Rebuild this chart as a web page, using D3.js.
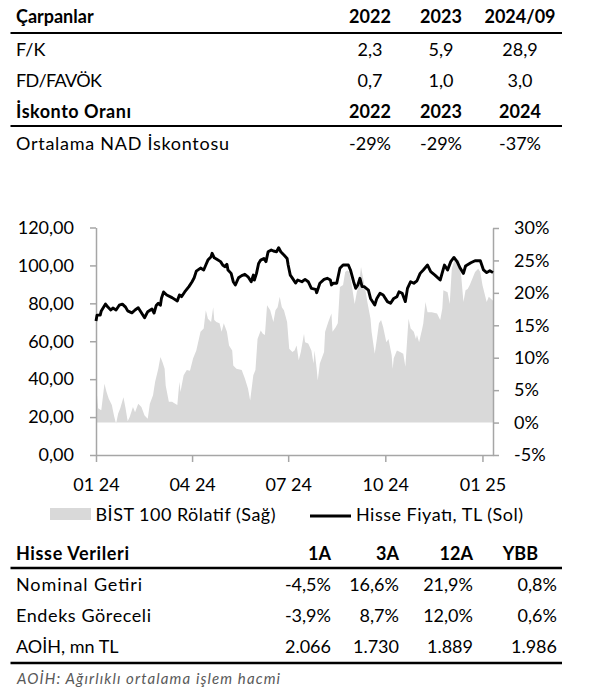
<!DOCTYPE html>
<html>
<head>
<meta charset="utf-8">
<script src="https://cdn.jsdelivr.net/npm/d3@7"></script>
<style>
  html, body { margin: 0; padding: 0; background: #fff; }
  svg { display: block; font-family: Lato, "Open Sans", sans-serif; }
</style>
</head>
<body>
<svg id="chart" width="594" height="693"></svg>
<script>
// ---------- DATA ----------
// Top table: multiples
const multiplesTitle = "Çarpanlar";
const multiplesYears = ["2022", "2023", "2024/09"];
const multiplesLabels = ["F/K", "FD/FAVÖK"];
const multiplesValues = [["2,3", "5,9", "28,9"], ["0,7", "1,0", "3,0"]];
const discountTitle = "İskonto Oranı";
const discountYears = ["2022", "2023", "2024"];
const discountLabels = ["Ortalama NAD İskontosu"];
const discountValues = [["-29%", "-29%", "-37%"]];

// Chart: share price (TL, left axis)
const priceDates = ["2024-01-01","2024-01-02","2024-01-05","2024-01-06","2024-01-10","2024-01-12","2024-01-15","2024-01-17","2024-01-20","2024-01-23",
  "2024-01-26","2024-01-29","2024-01-31","2024-02-04","2024-02-07","2024-02-10","2024-02-13","2024-02-16","2024-02-19","2024-02-23",
  "2024-02-25","2024-02-27","2024-02-29","2024-03-02","2024-03-03","2024-03-05","2024-03-08","2024-03-13","2024-03-18","2024-03-20",
  "2024-03-22","2024-03-25","2024-03-29","2024-04-01","2024-04-03","2024-04-05","2024-04-09","2024-04-12","2024-04-14","2024-04-16",
  "2024-04-19","2024-04-20","2024-04-22","2024-04-24","2024-04-28","2024-04-30","2024-05-02","2024-05-04","2024-05-05","2024-05-08",
  "2024-05-10","2024-05-12","2024-05-15","2024-05-18","2024-05-21","2024-05-24","2024-05-27","2024-05-29","2024-05-30","2024-06-01",
  "2024-06-03","2024-06-05","2024-06-08","2024-06-10","2024-06-12","2024-06-15","2024-06-17","2024-06-20","2024-06-22","2024-06-24",
  "2024-06-27","2024-06-30","2024-07-01","2024-07-03","2024-07-05","2024-07-08","2024-07-10","2024-07-14","2024-07-17","2024-07-20",
  "2024-07-23","2024-07-27","2024-07-28","2024-07-31","2024-08-04","2024-08-07","2024-08-10","2024-08-11","2024-08-13","2024-08-16",
  "2024-08-19","2024-08-22","2024-08-27","2024-08-29","2024-09-01","2024-09-03","2024-09-05","2024-09-07","2024-09-09","2024-09-11",
  "2024-09-13","2024-09-15","2024-09-17","2024-09-21","2024-09-23","2024-09-26","2024-09-29","2024-10-03","2024-10-06","2024-10-09",
  "2024-10-12","2024-10-14","2024-10-17","2024-10-20","2024-10-22","2024-10-25","2024-10-28","2024-10-31","2024-11-03","2024-11-06",
  "2024-11-10","2024-11-13","2024-11-17","2024-11-22","2024-11-26","2024-11-29","2024-12-02","2024-12-05","2024-12-08","2024-12-11",
  "2024-12-14","2024-12-16","2024-12-21","2024-12-25","2024-12-30","2025-01-02","2025-01-05","2025-01-08","2025-01-11"];
const priceValues = [70.7,73.8,73.8,76,79.6,78.2,76.5,77.5,76.5,79,
  79.6,78,76,75,76.5,77.7,75,72.4,75.6,77,
  74.9,78.8,80,79,82.7,86,84.4,83,81.2,84.4,
  83.5,86,88.8,91.4,93.5,97,98.6,97.6,100.2,102.8,
  104.6,106.4,104,103.4,102,100.2,99.3,100.6,97.6,95.8,
  91.4,89.7,93.5,94.6,95.3,94,91.4,94.9,92.3,95.8,
  101,102.8,103.7,102,107.2,108.1,107.6,107.2,109.3,107.2,
  105.5,103.7,100.2,94.9,93.3,90.7,92.3,91.4,92.6,91.4,
  87.9,87.4,85.6,90.6,92.6,93.2,92.3,89.7,90.6,90.6,
  98.5,100.2,100.2,97.6,91.4,87.9,89.7,93.2,88.8,88.8,
  87.9,87,82.6,79.1,82.6,85.3,84.4,80.9,80,82.6,
  83.5,86.1,85.3,80.9,87.9,91.4,90.6,91.9,95.8,97.6,
  100.2,96.7,94.9,92.3,100.2,97.6,102,104.2,102,98.5,
  95.8,99.7,101.4,102.5,102.5,97.6,96.2,97.2,96.2];

// Chart: relative to BIST 100 (%, right axis)
const relDates = ["2024-01-01","2024-01-02","2024-01-03","2024-01-06","2024-01-09","2024-01-11","2024-01-13","2024-01-16","2024-01-18","2024-01-20",
  "2024-01-22","2024-01-24","2024-01-27","2024-01-29","2024-01-31","2024-02-02","2024-02-05","2024-02-07","2024-02-10","2024-02-13",
  "2024-02-16","2024-02-19","2024-02-21","2024-02-24","2024-02-26","2024-02-29","2024-03-02","2024-03-04","2024-03-06","2024-03-07",
  "2024-03-10","2024-03-13","2024-03-16","2024-03-18","2024-03-20","2024-03-21","2024-03-24","2024-03-27","2024-03-30","2024-04-02",
  "2024-04-05","2024-04-09","2024-04-12","2024-04-14","2024-04-16","2024-04-19","2024-04-21","2024-04-22","2024-04-24","2024-04-27",
  "2024-04-29","2024-05-01","2024-05-04","2024-05-06","2024-05-09","2024-05-10","2024-05-13","2024-05-18","2024-05-21","2024-05-24",
  "2024-05-26","2024-05-29","2024-05-31","2024-06-02","2024-06-05","2024-06-07","2024-06-09","2024-06-11","2024-06-14","2024-06-17",
  "2024-06-19","2024-06-21","2024-06-23","2024-06-25","2024-06-27","2024-06-30","2024-07-02","2024-07-05","2024-07-07","2024-07-09",
  "2024-07-11","2024-07-13","2024-07-16","2024-07-17","2024-07-20","2024-07-23","2024-07-25","2024-07-26","2024-07-28","2024-07-29",
  "2024-07-31","2024-08-04","2024-08-05","2024-08-08","2024-08-11","2024-08-12","2024-08-15","2024-08-17","2024-08-19","2024-08-22",
  "2024-08-24","2024-08-26","2024-08-28","2024-08-30","2024-09-02","2024-09-04","2024-09-06","2024-09-08","2024-09-10","2024-09-12",
  "2024-09-14","2024-09-17","2024-09-18","2024-09-21","2024-09-23","2024-09-25","2024-09-27","2024-09-29","2024-10-02","2024-10-04",
  "2024-10-07","2024-10-08","2024-10-09","2024-10-12","2024-10-15","2024-10-18","2024-10-20","2024-10-23","2024-10-25","2024-10-28",
  "2024-10-30","2024-10-31","2024-11-02","2024-11-05","2024-11-06","2024-11-08","2024-11-10","2024-11-14","2024-11-19","2024-11-22",
  "2024-11-24","2024-11-25","2024-11-29","2024-12-01","2024-12-03","2024-12-06","2024-12-10","2024-12-12","2024-12-14","2024-12-16",
  "2024-12-18","2024-12-20","2024-12-23","2024-12-25","2024-12-28","2024-12-30","2025-01-01","2025-01-03","2025-01-05","2025-01-07",
  "2025-01-09","2025-01-11"];
const relValues = [-0.5,4.2,2.2,1.9,6.0,4.7,3.7,2.7,1.1,-0.2,
  1.4,2.2,3.9,2.2,0.2,0.9,2.4,1.6,2.9,2.4,
  1.1,0.6,2.9,4.2,6.3,8.3,10.1,9.3,8.3,5.7,
  3.2,3.2,2.9,2.7,6.3,4.7,7.3,8.1,8.0,9.9,
  11.1,14,14.5,17.3,16,15.5,17.8,15.8,15.5,15.3,
  14,15.3,14,11.9,11.1,8.8,8.3,8.1,6.8,5.2,
  3.4,7.3,8.1,12.9,14.2,13.7,13.5,18.1,17.3,15.5,
  17.3,17.8,19.4,17.8,17.3,15.5,11.4,10.9,11.1,11.9,
  9.6,10.9,13.7,12.4,12.2,11.1,9.1,11.1,8.3,6.5,
  9.1,10.9,14,15.5,16.8,14,14.7,15.3,20.9,21.2,
  23.2,23.5,23.2,21.4,18.3,20.1,21.2,24,22.2,20.6,
  18.6,16,14,10.6,12.9,15.3,15.8,14.7,12.4,12.9,
  10.4,8.3,9.9,11.1,10.9,10.6,8.6,16,14.5,14,
  12.9,13.5,12.4,14.5,15.3,18.6,17,17,16.8,15.8,
  17.6,20.4,20.1,18.3,23.7,25.3,25,22.4,18.6,20.4,
  20.6,21.2,22.4,23.2,23.7,23.2,21.2,19.9,18.6,19.4,
  19.1,18.8];

const xTickDates = ["2024-01-01", "2024-04-01", "2024-07-01", "2024-10-01", "2025-01-01"];
const leftTicks = [0, 20, 40, 60, 80, 100, 120];
const rightTicks = [-5, 0, 5, 10, 15, 20, 25, 30];
const legendLabels = ["BİST 100 Rölatif (Sağ)", "Hisse Fiyatı, TL (Sol)"];

// Bottom table: share data
const shareTitle = "Hisse Verileri";
const sharePeriods = ["1A", "3A", "12A", "YBB"];
const shareLabels = ["Nominal Getiri", "Endeks Göreceli", "AOİH, mn TL"];
const shareValues = [["-4,5%", "16,6%", "21,9%", "0,8%"], ["-3,9%", "8,7%", "12,0%", "0,6%"], ["2.066", "1.730", "1.889", "1.986"]];
const footnote = "AOİH: Ağırlıklı ortalama işlem hacmi";

// ---------- DRAW ----------
const svg = d3.select("#chart");
const FS = 18;

// label widths measured on the reference (Excel-style loose spacing)
const labelWidth = {
  "Çarpanlar": 79, "F/K": 28, "FD/FAVÖK": 86, "İskonto Oranı": 115,
  "Ortalama NAD İskontosu": 213, "Hisse Verileri": 113, "Nominal Getiri": 126,
  "Endeks Göreceli": 135, "AOİH, mn TL": 102
};
function label(x, y, t, bold) {
  const el = svg.append("text").attr("x", x).attr("y", y).attr("dy", "0.35em")
    .attr("font-size", FS).attr("font-weight", bold ? "bold" : null).text(t);
  const w = labelWidth[t];
  if (w) {
    const nat = el.node().getComputedTextLength();
    if (Math.abs(nat - w) > 2) el.attr("textLength", w).attr("lengthAdjust", "spacing");
  }
  return el;
}

// --- top table ---
const topCols = [370, 441, 520];
function headerRow(y, title, cols) {
  label(16, y, title, true);
  svg.selectAll(null).data(cols).enter().append("text")
    .attr("x", (d, i) => topCols[i]).attr("y", y).attr("dy", "0.35em")
    .attr("text-anchor", "middle").attr("font-weight", "bold").attr("font-size", FS).text(d => d);
}
function bodyRow(y, lab, vals) {
  label(16, y, lab, false);
  svg.selectAll(null).data(vals).enter().append("text")
    .attr("x", (d, i) => topCols[i]).attr("y", y).attr("dy", "0.35em")
    .attr("text-anchor", "middle").attr("font-size", FS).text(d => d);
}
function rule(y, w) {
  svg.append("line").attr("x1", 10.5).attr("x2", 562).attr("y1", y).attr("y2", y)
    .attr("stroke", "#000").attr("stroke-width", w);
}
headerRow(17, multiplesTitle, multiplesYears);
rule(33, 2);
multiplesLabels.forEach((l, i) => bodyRow(50 + i * 31, l, multiplesValues[i]));
headerRow(112, discountTitle, discountYears);
rule(126, 2);
discountLabels.forEach((l, i) => bodyRow(144, l, discountValues[i]));

// --- chart ---
const parse = d3.timeParse("%Y-%m-%d");
const x = d3.scaleTime().domain([parse("2024-01-01"), parse("2025-01-11")]).range([96, 493]);
const yL = d3.scaleLinear().domain([0, 120]).range([455, 227.5]);
const yR = d3.scaleLinear().domain([-5, 30]).range([455, 228]);

const relData = relDates.map((d, i) => ({ d: parse(d), v: relValues[i] }));
const priceData = priceDates.map((d, i) => ({ d: parse(d), v: priceValues[i] }));

svg.append("path").datum(relData)
  .attr("fill", "#d9d9d9")
  .attr("d", d3.area().defined(p => p.d && p.v != null).x(p => x(p.d)).y0(yR(0)).y1(p => yR(p.v)));

const loc = d3.formatLocale({ decimal: ",", thousands: ".", grouping: [3], currency: ["", ""] });
const axisColor = "#a6a6a6";
function styleAxis(g) {
  g.selectAll("path, line").attr("stroke", axisColor).attr("stroke-width", 1.5);
  g.selectAll("text").attr("font-size", FS).attr("fill", "#000").attr("font-family", "Lato, sans-serif");
}
svg.append("g").attr("transform", "translate(96,0)")
  .call(d3.axisLeft(yL).tickValues(leftTicks).tickFormat(loc.format(".2f")).tickSize(6).tickSizeOuter(0).tickPadding(16))
  .call(styleAxis);
svg.append("g").attr("transform", "translate(493,0)")
  .call(d3.axisRight(yR).tickValues(rightTicks).tickFormat(d => d + "%").tickSize(6).tickSizeOuter(0).tickPadding(15))
  .call(styleAxis);
svg.append("g").attr("transform", "translate(0,455)")
  .call(d3.axisBottom(x).tickValues(xTickDates.map(parse)).tickFormat(d3.timeFormat("%m %y")).tickSize(7).tickSizeOuter(0).tickPadding(16))
  .call(styleAxis);

svg.append("path").datum(priceData)
  .attr("fill", "none").attr("stroke", "#000").attr("stroke-width", 2.9)
  .attr("stroke-linejoin", "round")
  .attr("d", d3.line().defined(p => p.d && p.v != null).x(p => x(p.d)).y(p => yL(p.v)));

// legend
svg.append("rect").attr("x", 50).attr("y", 508).attr("width", 41).attr("height", 12).attr("fill", "#d9d9d9");
svg.append("text").attr("x", 95.5).attr("y", 515).attr("dy", "0.35em").attr("font-size", FS)
  .attr("textLength", 180).attr("lengthAdjust", "spacing").text(legendLabels[0]);
svg.append("line").attr("x1", 310).attr("x2", 351).attr("y1", 516).attr("y2", 516).attr("stroke", "#000").attr("stroke-width", 3);
svg.append("text").attr("x", 356).attr("y", 515).attr("dy", "0.35em").attr("font-size", FS)
  .attr("textLength", 167).attr("lengthAdjust", "spacing").text(legendLabels[1]);

// --- bottom table ---
const headRight = [331, 399, 473, 538];
const valRight = [331, 399, 473, 557];
label(16, 554, shareTitle, true);
svg.selectAll(null).data(sharePeriods).enter().append("text")
  .attr("x", (d, i) => headRight[i]).attr("y", 554).attr("dy", "0.35em")
  .attr("text-anchor", "end").attr("font-weight", "bold").attr("font-size", FS).text(d => d);
svg.append("line").attr("x1", 10.5).attr("x2", 562).attr("y1", 568).attr("y2", 568).attr("stroke", "#000").attr("stroke-width", 2.5);
shareLabels.forEach((l, r) => {
  const y = 585 + r * 31;
  label(16, y, l, false);
  svg.selectAll(null).data(shareValues[r]).enter().append("text")
    .attr("x", (d, i) => valRight[i]).attr("y", y).attr("dy", "0.35em")
    .attr("text-anchor", "end").attr("font-size", FS).text(d => d);
});
svg.append("line").attr("x1", 10.5).attr("x2", 562).attr("y1", 663).attr("y2", 663).attr("stroke", "#000").attr("stroke-width", 2.5);
svg.append("text").attr("x", 17).attr("y", 679).attr("dy", "0.35em").attr("font-size", 15)
  .attr("font-style", "italic").attr("fill", "#595959")
  .attr("textLength", 263).attr("lengthAdjust", "spacing").text(footnote);
</script>
</body>
</html>
